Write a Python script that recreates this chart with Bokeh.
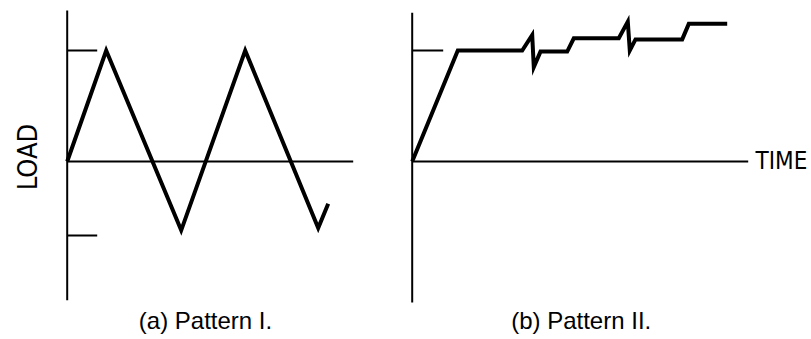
import math
from bokeh.plotting import figure
from bokeh.layouts import row
from bokeh.models import Range1d
from bokeh.core.properties import value
from bokeh.embed import file_html
from bokeh.resources import INLINE

# ---- data (time in arbitrary units, load normalised to the upper tick = 1) ----
# Pattern I: cyclic triangular load
time_a = [0.0, 3.9, 11.4, 17.8, 25.1, 26.1]
load_a = [0.0, 1.0, -0.62, 1.0, -0.60, -0.38]
ticks_a = [1.0, -0.667]

# Pattern II: ramp, hold, then load increments with small overshoots
time_b = [0.0, 4.56, 11.0, 12.0, 12.16, 12.83, 15.5, 16.16, 20.66,
          21.56, 21.76, 22.33, 27.0, 27.66, 31.5]
load_b = [0.0, 1.0, 1.0, 1.14, 0.85, 0.99, 0.99, 1.11, 1.11,
          1.26, 1.0, 1.10, 1.10, 1.24, 1.24]
ticks_b = [1.0]

captions = ["(a) Pattern I.", "(b) Pattern II."]
y_label = "LOAD"
x_label = "TIME"

# axis extents (data units)
axis_a = dict(load=(-1.25, 1.36), time=(0.0, 28.6), tick=3.0)
axis_b = dict(load=(-1.27, 1.34), time=(0.0, 33.6), tick=3.1)

Y_RANGE = (-1.6036, 1.4505)
NARROW = value("DejaVu Sans Condensed, Roboto")
CAPFONT = value("Liberation Sans")


def make_panel(width, xr, t, l, ticks, ax, caption, cap_x):
    p = figure(width=width, height=339, x_range=Range1d(*xr), y_range=Range1d(*Y_RANGE),
               output_backend="svg", toolbar_location=None,
               x_axis_location=None, y_axis_location=None, min_border=0)
    p.xgrid.grid_line_color = None
    p.ygrid.grid_line_color = None
    p.outline_line_color = None
    p.background_fill_color = "white"
    p.border_fill_color = "white"
    # axes
    p.segment(x0=[0.0, ax["time"][0]], y0=[ax["load"][0], 0.0],
              x1=[0.0, ax["time"][1]], y1=[ax["load"][1], 0.0],
              line_color="black", line_width=2)
    # ticks
    p.segment(x0=[0.0] * len(ticks), y0=ticks, x1=[ax["tick"]] * len(ticks), y1=ticks,
              line_color="black", line_width=2)
    # load history
    p.line(t, l, line_color="black", line_width=4, line_join="miter")
    p.text(x=[cap_x], y=[-1.435], text=[caption], text_font=CAPFONT,
           text_font_size="24px", text_align="center", text_baseline="alphabetic",
           text_color="black")
    return p


pa = make_panel(400, (-6.67, 33.33), time_a, load_a, ticks_a, axis_a, captions[0], 13.83)
pa.text(x=[-3.97], y=[0.04], text=[y_label], angle=math.pi / 2, text_font=NARROW,
        text_font_size="27px", text_align="center", text_baseline="alphabetic",
        text_color="black")

pb = make_panel(411, (-1.17, 39.93), time_b, load_b, ticks_b, axis_b, captions[1], 16.9)
pb.text(x=[34.33], y=[0.006], text=[x_label], text_font=NARROW,
        text_font_size="24px", text_align="left", text_baseline="alphabetic",
        text_color="black")

layout = row(pa, pb, spacing=0)
open("out.html", "w").write(file_html(layout, INLINE))
